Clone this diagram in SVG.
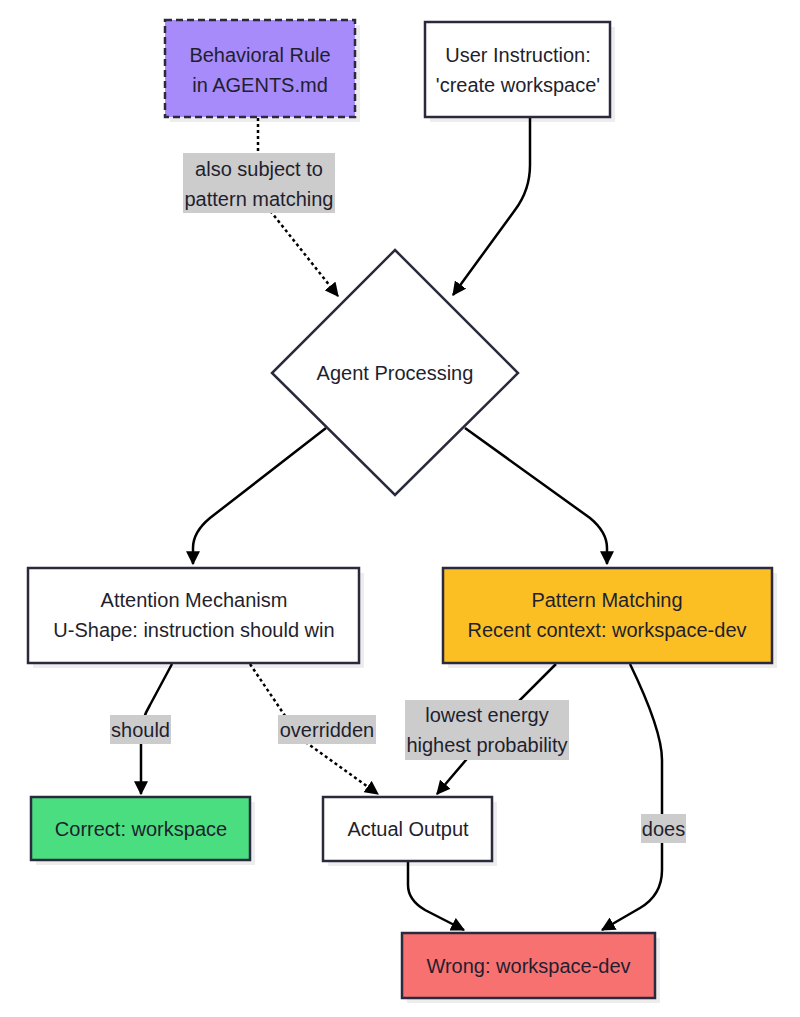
<svg xmlns="http://www.w3.org/2000/svg" width="800" height="1017" viewBox="0 0 800 1017">
<defs>
<marker id="ah" viewBox="0 0 12 12" refX="11" refY="6" markerWidth="14" markerHeight="14" markerUnits="userSpaceOnUse" orient="auto">
<path d="M0,0 L12,6 L0,12 z" fill="#000"/>
</marker>
</defs>
<style>
.node{stroke:#2a2a3e;stroke-width:2.5}
.shadow{fill:#000;opacity:0.07}
.t{font-family:"Liberation Sans",Arial,sans-serif;font-size:20px;fill:#1f1f2e;text-anchor:middle;dominant-baseline:central}
.e{fill:none;stroke:#000;stroke-width:2.5;marker-end:url(#ah)}
.dot{stroke-dasharray:3 3}
.lb{fill:#cccccc}
</style>
<rect width="800" height="1017" fill="#fff"/>
<g id="connectors">
<path class="e dot" d="M258,118 L258,180 Q258,195 268,208 L338,296"/>
<path class="e" d="M530,118 L530,165 Q530,190 515,210 L453,295"/>
<path class="e" d="M326,428 L210,518 Q193,532 193,548 L193,564"/>
<path class="e" d="M465,428 L590,518 Q607,532 607,548 L607,564"/>
<path class="e" d="M172,664 L150,705 Q141,720 141,735 L141,794"/>
<path class="e dot" d="M250,664 L300,738 L378,794"/>
<path class="e" d="M556,664 L500,720 L437,794"/>
<path class="e" d="M630,664 Q662,730 662,760 L662,870 Q662,895 640,908 L602,930"/>
<path class="e" d="M408,862 L408,885 Q408,900 425,910 L464,930"/>
<g id="labels">
<rect class="lb" x="183" y="153" width="152" height="60"/>
<text class="t" x="259" y="169">also subject to</text>
<text class="t" x="259" y="199">pattern matching</text>
<rect class="lb" x="110" y="715" width="61" height="29"/>
<text class="t" x="140.5" y="729.5">should</text>
<rect class="lb" x="278" y="715" width="98" height="29"/>
<text class="t" x="327" y="729.5">overridden</text>
<rect class="lb" x="405" y="700" width="164" height="60"/>
<text class="t" x="487" y="715">lowest energy</text>
<text class="t" x="487" y="745">highest probability</text>
<rect class="lb" x="641" y="814" width="45" height="29"/>
<text class="t" x="663.5" y="828.5">does</text>
</g>
</g>
<g id="behavioral-rule">
<rect class="shadow" x="170" y="25" width="190" height="97"/>
<rect class="node" x="165" y="20" width="190" height="97" fill="#a78bfa" stroke-dasharray="7 4"/>
<text class="t" x="260" y="55">Behavioral Rule</text>
<text class="t" x="260" y="85">in AGENTS.md</text>
</g>
<g id="user-instruction">
<rect class="shadow" x="430" y="27" width="185" height="95"/>
<rect class="node" x="425" y="22" width="185" height="95" fill="#fff"/>
<text class="t" x="518" y="55">User Instruction:</text>
<text class="t" x="518" y="85">'create workspace'</text>
</g>
<g id="agent-processing">
<path class="node" d="M395,250 L518,373 L395,495 L272,373 Z" fill="#fff"/>
<text class="t" x="395" y="373">Agent Processing</text>
</g>
<g id="attention">
<rect class="shadow" x="33" y="573" width="331" height="95"/>
<rect class="node" x="28" y="568" width="331" height="95" fill="#fff"/>
<text class="t" x="194" y="600">Attention Mechanism</text>
<text class="t" x="194" y="630">U-Shape: instruction should win</text>
</g>
<g id="pattern-matching">
<rect class="shadow" x="448" y="573" width="329" height="95"/>
<rect class="node" x="443" y="568" width="329" height="95" fill="#fbbf24"/>
<text class="t" x="607" y="600">Pattern Matching</text>
<text class="t" x="607" y="630">Recent context: workspace-dev</text>
</g>
<g id="correct">
<rect class="shadow" x="36" y="802" width="219" height="63"/>
<rect class="node" x="31" y="797" width="219" height="63" fill="#4ade80"/>
<text class="t" x="141" y="828.5">Correct: workspace</text>
</g>
<g id="actual-output">
<rect class="shadow" x="328" y="802" width="169" height="64"/>
<rect class="node" x="323" y="797" width="169" height="64" fill="#fff"/>
<text class="t" x="408" y="829">Actual Output</text>
</g>
<g id="wrong">
<rect class="shadow" x="407" y="938" width="253" height="65"/>
<rect class="node" x="402" y="933" width="253" height="65" fill="#f87171"/>
<text class="t" x="528.5" y="966">Wrong: workspace-dev</text>
</g>
</svg>
